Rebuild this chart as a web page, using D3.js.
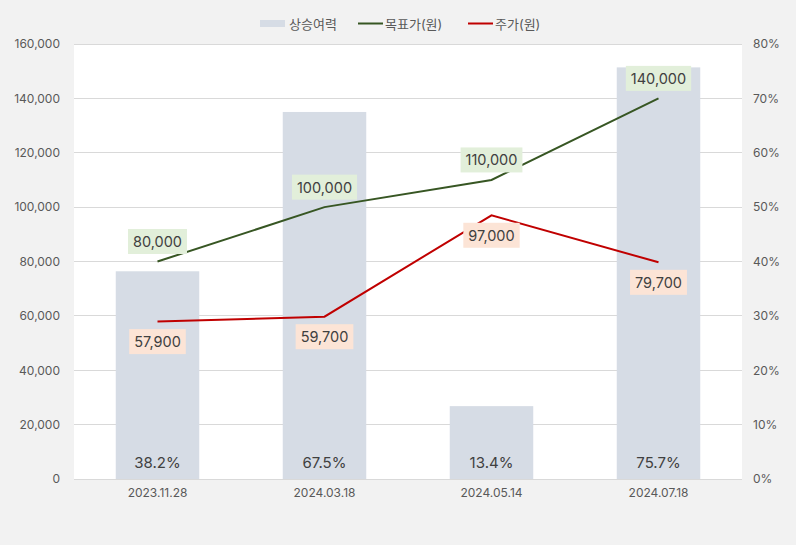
<!DOCTYPE html>
<html><head><meta charset="utf-8">
<script src="https://cdn.jsdelivr.net/npm/d3@7/dist/d3.min.js"></script>
<style>
html,body{margin:0;padding:0;background:#f2f2f2;}
text{font-family:Inter,"Noto Sans CJK KR","Noto Sans",sans-serif;}
</style></head><body>
<svg id="c" width="796" height="545"></svg>
<script>
const categories = ["2023.11.28","2024.03.18","2024.05.14","2024.07.18"];
const upside = [0.382, 0.675, 0.134, 0.757];
const upsideLabels = ["38.2%","67.5%","13.4%","75.7%"];
const targetPrice = [80000, 100000, 110000, 140000];
const stockPrice = [57900, 59700, 97000, 79700];
const leftTicks = [0,20000,40000,60000,80000,100000,120000,140000,160000];
const rightTicks = [0,0.1,0.2,0.3,0.4,0.5,0.6,0.7,0.8];
const legendNames = ["상승여력","목표가(원)","주가(원)"];

const FONT = 'Inter,"Noto Sans CJK KR","Noto Sans",sans-serif';
const svg = d3.select("#c");
const m = {l:74, r:742, t:44, b:479};
svg.append("rect").attr("width",796).attr("height",545).attr("fill","#f2f2f2");
svg.append("rect").attr("x",m.l).attr("y",m.t).attr("width",m.r-m.l).attr("height",m.b-m.t).attr("fill","#ffffff");

const x = d3.scaleBand().domain(categories).range([m.l,m.r]).paddingInner(0.5).paddingOuter(0.25);
const yL = d3.scaleLinear().domain([0,160000]).range([m.b,m.t]);
const yR = d3.scaleLinear().domain([0,0.8]).range([m.b,m.t]);

// grid
svg.append("g").selectAll("line").data(leftTicks).join("line")
  .attr("x1",m.l).attr("x2",m.r).attr("y1",d=>yL(d)).attr("y2",d=>yL(d))
  .attr("stroke","#d9d9d9").attr("stroke-width",1).attr("shape-rendering","crispEdges");

// bars
svg.append("g").selectAll("rect").data(upside).join("rect")
  .attr("x",(d,i)=>x(categories[i])).attr("width",x.bandwidth())
  .attr("y",d=>yR(d)).attr("height",d=>m.b-yR(d)).attr("fill","#d6dce5");

// bottom axis line
svg.append("line").attr("x1",m.l).attr("x2",m.r).attr("y1",m.b).attr("y2",m.b)
  .attr("stroke","#d9d9d9").attr("shape-rendering","crispEdges");

// axes
const axL = d3.axisLeft(yL).tickValues(leftTicks).tickFormat(d3.format(",")).tickSize(0).tickPadding(14);
const gL = svg.append("g").attr("transform",`translate(${m.l},0)`).call(axL);
const axR = d3.axisRight(yR).tickValues(rightTicks).tickFormat(d3.format(".0%")).tickSize(0).tickPadding(11);
const gR = svg.append("g").attr("transform",`translate(${m.r},0)`).call(axR);
const axB = d3.axisBottom(x).tickSize(0).tickPadding(9);
const gB = svg.append("g").attr("transform",`translate(0,${m.b})`).call(axB);
[gL,gR,gB].forEach(g=>{
  g.select(".domain").remove();
  g.selectAll("text").attr("fill","#595959").style("font-size","12px").style("font-family",FONT);
});

// bar labels
svg.append("g").selectAll("text").data(upsideLabels).join("text")
  .attr("x",(d,i)=>x(categories[i])+x.bandwidth()/2).attr("y",m.b-17)
  .attr("text-anchor","middle").attr("dominant-baseline","central")
  .attr("fill","#404040").style("font-size","15px").text(d=>d);

const cx = i => x(categories[i]) + x.bandwidth()/2;
const line = d3.line().x((d,i)=>cx(i)).y(d=>yL(d));
svg.append("path").datum(targetPrice).attr("d",line).attr("fill","none").attr("stroke","#375623").attr("stroke-width",2);
svg.append("path").datum(stockPrice).attr("d",line).attr("fill","none").attr("stroke","#c00000").attr("stroke-width",2);

function labels(data, dy, bg){
  const g = svg.append("g");
  data.forEach((d,i)=>{
    const t = d3.format(",")(d);
    const gx = cx(i), gy = yL(d)+dy;
    const r = g.append("rect").attr("fill",bg);
    const tx = g.append("text").attr("x",gx).attr("y",gy).attr("text-anchor","middle")
      .attr("dominant-baseline","central").attr("fill","#404040").style("font-size","14.5px").text(t);
    const bb = tx.node().getBBox();
    r.attr("x",gx-bb.width/2-5).attr("y",gy-12.5).attr("width",bb.width+10).attr("height",25);
  });
}
labels(targetPrice, -20, "#e2efda");
labels(stockPrice, 20, "#fce4d6");

// legend
const lg = svg.append("g");
lg.append("rect").attr("x",260).attr("y",20).attr("width",25).attr("height",7).attr("fill","#d6dce5");
lg.append("text").attr("x",289).attr("y",24).attr("dominant-baseline","central").attr("fill","#595959").style("font-size","13px").text(legendNames[0]);
lg.append("line").attr("x1",358).attr("x2",383).attr("y1",23.5).attr("y2",23.5).attr("stroke","#375623").attr("stroke-width",2);
lg.append("text").attr("x",385).attr("y",24).attr("dominant-baseline","central").attr("fill","#595959").style("font-size","13px").text(legendNames[1]);
lg.append("line").attr("x1",468).attr("x2",493).attr("y1",23.5).attr("y2",23.5).attr("stroke","#c00000").attr("stroke-width",2);
lg.append("text").attr("x",495).attr("y",24).attr("dominant-baseline","central").attr("fill","#595959").style("font-size","13px").text(legendNames[2]);
</script></body></html>
